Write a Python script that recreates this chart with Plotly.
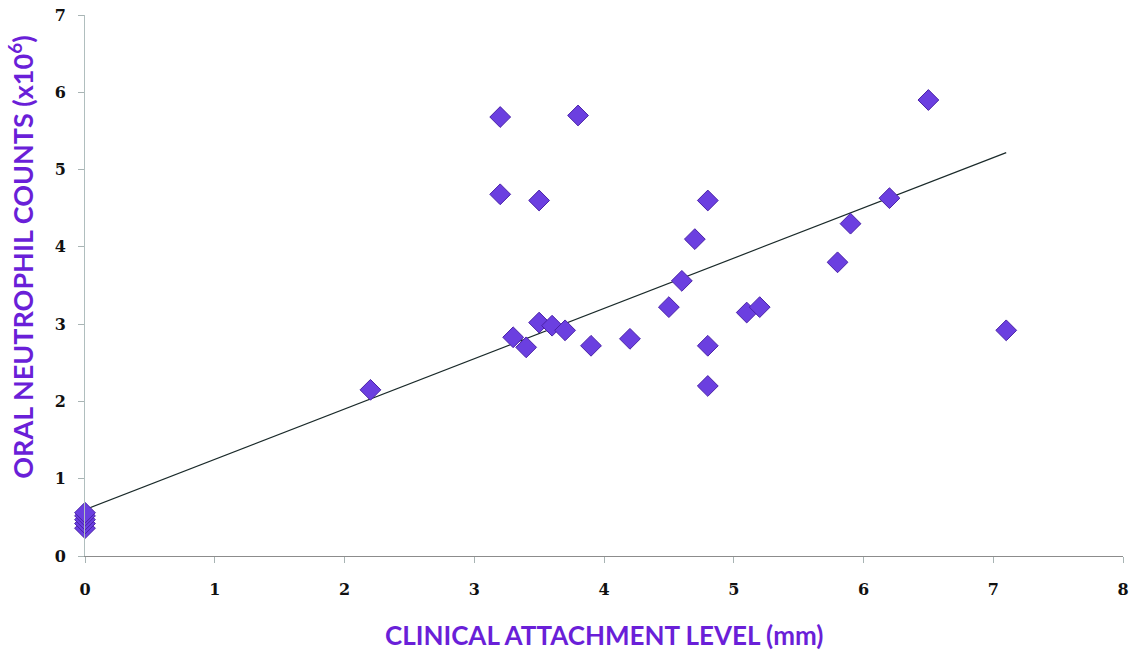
import plotly.graph_objects as go

# Data
cal_x = [0, 0, 0, 0, 0,
         2.2, 3.2, 3.2, 3.3, 3.4, 3.5, 3.5, 3.6, 3.7, 3.8, 3.9,
         4.2, 4.5, 4.6, 4.7, 4.8, 4.8, 4.8, 5.1, 5.2, 5.8, 5.9,
         6.2, 6.5, 7.1]
neut_y = [0.36, 0.42, 0.47, 0.52, 0.56,
          2.15, 5.68, 4.68, 2.83, 2.70, 3.02, 4.60, 2.98, 2.92, 5.70, 2.72,
          2.81, 3.22, 3.56, 4.10, 4.60, 2.72, 2.20, 3.15, 3.22, 3.80, 4.30,
          4.63, 5.90, 2.92]
trend_x = [0, 7.1]
trend_y = [0.60, 5.22]
x_ticks = [0, 1, 2, 3, 4, 5, 6, 7, 8]
y_ticks = [0, 1, 2, 3, 4, 5, 6, 7]
x_title = "<b>CLINICAL ATTACHMENT LEVEL (mm)</b>"
y_title = "<b>ORAL NEUTROPHIL COUNTS (x10<sup>6</sup>)</b>"

fig = go.Figure()
fig.add_trace(go.Scatter(x=trend_x, y=trend_y, mode="lines",
                         line=dict(color="#1a2a2a", width=1.2),
                         showlegend=False, hoverinfo="skip"))
fig.add_trace(go.Scatter(x=cal_x, y=neut_y, mode="markers",
                         marker=dict(symbol="diamond", size=16, color="#6b3fe0",
                                     line=dict(color="#4a22a8", width=1)),
                         cliponaxis=False, showlegend=False))

tick_font = dict(family="DejaVu Serif", size=16, color="#111111")
title_color = "#6a1fd8"

fig.update_layout(
    width=1143, height=652,
    margin=dict(l=85, r=20, t=15, b=96),
    paper_bgcolor="white", plot_bgcolor="white",
    xaxis=dict(range=[0, 8], tickvals=x_ticks, ticktext=[f"<b>{v}</b>" for v in x_ticks],
               showgrid=False, zeroline=False, showline=True, linecolor="#8c8c8c",
               linewidth=1, ticks="outside", tickcolor="#a8b4b4", ticklen=6,
               tickfont=tick_font, automargin=False, ticklabelstandoff=13,
               ticklabeloverflow="allow"),
    yaxis=dict(range=[0, 7], tickvals=y_ticks, ticktext=[f"<b>{v}</b>" for v in y_ticks],
               showgrid=False, zeroline=False, showline=True, linecolor="#b0bebe",
               linewidth=1, ticks="outside", tickcolor="#a8b4b4", ticklen=6,
               tickfont=tick_font, automargin=False, ticklabelstandoff=9,
               ticklabeloverflow="allow"),
    annotations=[
        dict(text=x_title, xref="paper", yref="paper", x=0.5, y=-0.146,
             xanchor="center", yanchor="middle", showarrow=False,
             font=dict(family="Lato", size=26, color=title_color)),
        dict(text=y_title, xref="paper", yref="paper", x=-0.0617, y=0.553,
             xanchor="center", yanchor="middle", showarrow=False, textangle=-90,
             font=dict(family="Lato", size=27, color=title_color)),
    ],
)

fig.write_html("out.html",
               config={"displayModeBar": False},
               post_script="document.body.style.margin='0';")
